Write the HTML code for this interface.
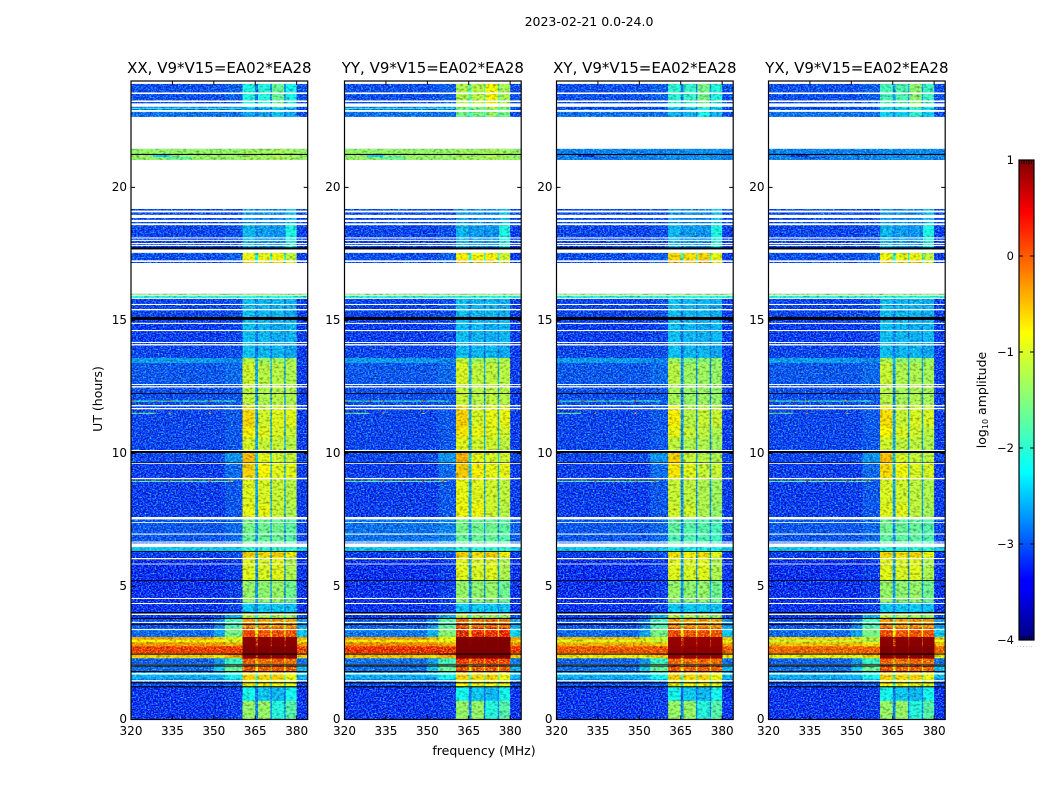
<!DOCTYPE html>
<html lang="en">
<head>
<meta charset="utf-8">
<title>2023-02-21 0.0-24.0</title>
<style>
html,body{margin:0;padding:0;background:#fff;}
svg{display:block;font-family:"DejaVu Sans","Liberation Sans",sans-serif;}
</style>
</head>
<body>
<svg id="chart" xmlns="http://www.w3.org/2000/svg" width="1050" height="800" viewBox="0 0 1050 800">
<defs>
<filter id="grain" x="0" y="0" width="1" height="1" color-interpolation-filters="sRGB">
<feTurbulence type="fractalNoise" baseFrequency="0.6 0.75" numOctaves="2" seed="4" result="n"/>
<feColorMatrix in="n" type="matrix" values="0 0.5 0 0 -0.2  0 2 0 0 -0.8  0 0 0 0 0  0 0 0 0 1" result="m"/>
<feBlend in="SourceGraphic" in2="m" mode="screen" result="s"/>
<feTurbulence type="fractalNoise" baseFrequency="0.3 0.45" numOctaves="2" seed="9" result="d"/>
<feColorMatrix in="d" type="matrix" values="0 0 1 0 0.45  0 0 1 0 0.45  0 0 1 0 0.45  0 0 0 0 1" result="k"/>
<feBlend in="s" in2="k" mode="multiply"/>
</filter>
</defs>
<text x="589" y="26" font-size="12.5" text-anchor="middle" fill="#000">2023-02-21 0.0-24.0</text>
<text x="484" y="755" font-size="12.5" text-anchor="middle" fill="#000">frequency (MHz)</text>
<text x="0" y="0" transform="translate(102,399) rotate(-90)" font-size="12.5" text-anchor="middle" fill="#000">UT (hours)</text>
<text x="0" y="0" transform="translate(986,400) rotate(-90)" font-size="12.5" text-anchor="middle" fill="#000">log<tspan font-size="8" dy="2">10</tspan><tspan dy="-2"> amplitude</tspan></text>
<g id="panels"></g>
<g id="colorbar"></g>
</svg>
<script>
// ---- axis data ----
const panelNames = ["XX", "YY", "XY", "YX"];
const panelTitleSuffix = ", V9*V15=EA02*EA28";
const freqTicks = [320, 335, 350, 365, 380];
const hourTicks = [0, 5, 10, 15, 20];
const colorTicks = [1, 0, -1, -2, -3, -4];
const colorTickLabels = ["1", "0", "\u22121", "\u22122", "\u22123", "\u22124"];

// ---- frequency column edges (MHz) ----
const columnEdges = [320, 350, 354, 360.4, 365, 366, 370.5, 371, 375.5, 376, 380, 384];

// ---- time band edges (hours, top to bottom) ----
const bandHours = [23.89, 23.0, 22.65, 21.45, 21.03, 19.19, 18.6, 17.75, 17.54, 17.27, 17.16, 16.0, 15.93, 15.85, 15.13, 14.1, 13.59, 13.4, 12.6, 11.75, 11.0, 10.6, 10.1, 9.64, 9.08, 8.1, 7.6, 7.0, 6.48, 6.33, 6.11, 5.24, 4.4, 4.0, 3.8, 3.45, 3.1, 3.0, 2.9, 2.75, 2.5, 2.42, 2.3, 2.05, 1.82, 1.5, 1.22, 0.7, 0];

// ---- log10 amplitude per band: [left, near1, near2, strip1, strip2, strip3, strip4, gap, right] ----
const bandLevels = [
[-3.0,-3.0,-2.9,-2.15,-2.1,-1.7,-2.2,-2.8,-3.0],
[-2.8,-2.8,-2.8,-2.5,-2.5,-2.3,-2.5,-2.9,-3.0],
[-3.0,-3.0,-3.0,-3.0,-3.0,-3.0,-3.0,-3.0,-3.0],
[-1.4,-1.4,-1.4,-1.35,-1.35,-1.3,-1.35,-1.35,-1.4],
[-3.0,-3.0,-3.0,-3.0,-3.0,-3.0,-3.0,-3.0,-3.0],
[-3.0,-3.0,-3.0,-2.55,-2.6,-2.65,-2.35,-2.8,-3.0],
[-3.05,-3.05,-3.0,-2.4,-2.55,-2.6,-2.15,-2.7,-3.1],
[-3.05,-3.05,-3.0,-2.4,-2.55,-2.6,-2.15,-2.7,-3.1],
[-3.0,-3.0,-2.9,-0.85,-0.9,-0.85,-1.15,-2.2,-3.1],
[-3.0,-3.0,-2.9,-0.5,-0.6,-0.5,-1.0,-2.2,-3.1],
[-3.0,-3.0,-3.0,-3.0,-3.0,-3.0,-3.0,-3.0,-3.0],
[-1.4,-1.4,-1.4,-1.4,-1.4,-1.4,-1.4,-1.4,-1.4],
[-2.1,-2.1,-2.1,-2.1,-2.1,-2.1,-2.1,-2.1,-2.1],
[-3.05,-3.05,-3.0,-2.35,-2.4,-2.4,-2.45,-2.7,-3.1],
[-3.1,-3.1,-3.05,-2.35,-2.4,-2.45,-2.4,-2.75,-3.1],
[-3.05,-3.05,-3.0,-2.35,-2.4,-2.4,-2.5,-2.8,-3.1],
[-2.55,-2.6,-2.7,-1.2,-1.4,-1.35,-1.3,-2.4,-3.1],
[-2.95,-2.95,-2.85,-1.05,-1.2,-1.2,-1.25,-2.5,-3.1],
[-3.0,-3.0,-2.95,-1.15,-1.25,-1.2,-1.25,-2.6,-3.1],
[-3.05,-3.05,-2.95,-0.6,-1.05,-0.95,-0.95,-2.5,-3.1],
[-3.05,-3.05,-2.95,-0.75,-0.95,-1.0,-1.1,-2.5,-3.1],
[-3.05,-3.05,-2.95,-1.0,-1.1,-1.1,-1.2,-2.5,-3.1],
[-3.05,-3.0,-2.6,-0.4,-0.95,-1.05,-1.1,-2.3,-3.05],
[-3.1,-3.1,-2.85,-0.55,-0.8,-0.95,-0.95,-2.4,-3.1],
[-3.1,-3.1,-2.95,-0.95,-1.0,-1.1,-1.2,-2.5,-3.1],
[-3.1,-3.1,-2.95,-0.9,-0.9,-1.1,-1.25,-2.5,-3.1],
[-2.95,-2.95,-2.85,-1.6,-1.65,-1.65,-1.75,-2.6,-3.05],
[-2.95,-2.95,-2.85,-1.7,-1.7,-1.7,-1.8,-2.6,-3.05],
[-2.3,-2.3,-2.3,-2.05,-2.05,-2.05,-2.05,-2.5,-2.3],
[-3.1,-3.1,-3.0,-0.5,-0.6,-0.5,-0.75,-2.4,-3.1],
[-3.2,-3.2,-3.1,-0.95,-1.0,-0.95,-1.25,-2.6,-3.15],
[-3.2,-3.2,-3.1,-1.4,-1.45,-1.4,-1.65,-2.6,-3.15],
[-3.15,-3.15,-3.05,-2.3,-2.3,-2.3,-2.35,-2.7,-3.15],
[-3.1,-3.0,-2.5,-1.2,-1.3,-1.3,-1.4,-2.2,-3.0],
[-3.0,-2.7,-1.9,-0.15,-0.25,-0.15,-0.25,-1.5,-2.6],
[-2.85,-2.5,-1.6,0.3,0.2,0.25,0.2,-0.8,-2.3],
[-0.3,-0.5,-0.9,0.95,0.95,0.95,0.95,0.7,-0.3],
[-0.8,-0.85,-1.0,0.95,0.95,0.95,0.95,0.7,-0.7],
[-0.2,-0.2,-0.4,0.95,0.95,0.95,0.95,0.7,-0.2],
[0.35,0.35,0.4,1.0,1.0,1.0,1.0,0.9,0.35],
[-0.2,-0.15,0.2,1.0,1.0,1.0,1.0,0.9,-0.15],
[-0.6,-0.7,-0.4,0.95,0.95,0.95,0.95,0.7,-0.6],
[-2.9,-2.6,-2.0,0.15,0.05,0.15,0.05,-0.5,-2.8],
[-2.8,-2.3,-1.7,0.25,0.15,0.2,0.15,-0.7,-2.4],
[-2.45,-2.4,-2.2,-0.55,-0.6,-0.55,-0.85,-1.8,-2.4],
[-3.0,-3.0,-2.9,-0.8,-0.8,-0.8,-0.95,-2.0,-3.0],
[-3.15,-3.15,-3.1,-2.2,-2.3,-2.4,-2.2,-2.8,-3.15],
[-3.15,-3.15,-3.1,-1.4,-1.4,-2.1,-1.8,-2.7,-3.15]
];

// ---- per-polarisation offsets: [hourTop, hourBottom, leftOffset, stripOffset] ----
const offsetsXX = [];
const offsetsYY = [[24,22.65,0,0.9],[17.54,17.16,0,0.1],[13.59,7.6,0,0.05],[7.6,6.48,0.15,0],[3.8,2.05,0.08,0.25]];
const offsetsXY = [[24,22.65,0,0.1],[21.45,21.03,-1.3,-1.3],[17.54,17.16,0,0.25],[13.59,6.11,0,-0.15],[3.1,2.3,-0.15,-0.05]];
const offsetsYX = [[24,22.65,0,0.25],[21.45,21.03,-1.3,-1.3],[13.59,6.11,0,-0.05],[3.1,2.3,-0.25,0]];
const panelOffsets = [offsetsXX, offsetsYY, offsetsXY, offsetsYX];

// ---- narrow interference patches: [hourTop, hourBottom, freqStart, freqEnd, level] ----
const patches = [
[21.22,21.14,328,334,-2.3],[21.14,21.08,333,342,-2.0],
[23.0,22.95,320,360,-2.1],
[11.99,11.95,320,358,-1.9],[11.99,11.95,320.4,321.1,0.1],[11.99,11.95,329,329.8,0.2],[11.99,11.95,333.7,334.4,0.2],[11.99,11.95,348.2,348.9,0.2],
[11.53,11.49,320,329,-1.6],[11.53,11.49,333.7,334.4,-0.6],[11.53,11.49,348.2,348.9,-0.6],
[8.97,8.93,320,357,-1.6],[8.97,8.93,333.7,334.4,0.3],[8.97,8.93,340.6,341.3,-0.3],[8.97,8.93,348.2,348.9,0.3],[8.97,8.93,355.4,356.1,0.3],
[6.07,6.02,320,350,-1.2],[6.07,6.02,328.7,329.4,0.3],[6.07,6.02,333.7,334.4,0.3]
];

// ---- flagged (blank) time ranges, hours ----
const blankRanges = [[24,23.89],[23.57,23.51],[23.27,23.21],[23.16,23.03],[22.91,22.84],[22.65,21.45],[21.03,19.19],[19.13,19.06],[18.97,18.85],[18.78,18.7],[18.65,18.58],[18.12,18.08],[18.03,17.99],[17.91,17.87],[17.84,17.8],[17.67,17.54],[17.26,17.2],[17.16,16.0],[15.96,15.93],[15.85,15.81],[15.62,15.58],[15.43,15.38],[14.91,14.87],[14.64,14.6],[14.19,14.15],[14.11,14.06],[12.61,12.57],[12.53,12.48],[11.82,11.77],[11.71,11.66],[10.13,10.09],[9.64,9.61],[9.08,9.03],[7.61,7.52],[7.42,7.39],[6.99,6.95],[6.69,6.65],[6.62,6.48],[6.07,6.03],[5.86,5.83],[4.57,4.53],[4.38,4.34],[3.98,3.93],[3.67,3.63],[3.4,3.36],[2.09,2.05],[1.75,1.69],[1.48,1.43]];

// ---- zero-amplitude (black) time ranges, hours ----
const zeroRanges = [[21.26,21.22],[17.75,17.67],[15.13,15.02],[12.27,12.24],[10.09,10.02],[9.66,9.64],[6.33,6.3],[5.24,5.21],[4.04,3.99],[3.82,3.78],[3.6,3.56],[2.48,2.44],[2.09,2.06],[2.03,1.99],[1.82,1.78],[1.4,1.36],[1.25,1.21]];

// ---- colormap stops ----
const jetPositions = [0, 0.11, 0.125, 0.35, 0.64, 0.89, 1];
const jetColors = [[0,0,127],[0,0,255],[0,0,255],[0,255,255],[255,255,0],[255,0,0],[127,0,0]];

// ---- layout ----
const panelLefts = [131, 344.5, 556.5, 768.5];
const panelWidth = 176.7;
const plotTop = 81;
const plotBottom = 719.5;
const NS = "http://www.w3.org/2000/svg";
const panelsRoot = document.getElementById("panels");
const colorbarRoot = document.getElementById("colorbar");

function xScale(left, f) { return left + (f - 320) / 64 * panelWidth; }
function yScale(h) { return plotBottom - h / 24 * (plotBottom - plotTop); }
function jet(t) {
  t = Math.max(0, Math.min(1, t));
  for (let i = 1; i < jetPositions.length; i++) {
    if (t <= jetPositions[i]) {
      const u = (t - jetPositions[i-1]) / (jetPositions[i] - jetPositions[i-1]);
      const a = jetColors[i-1], b = jetColors[i];
      return "rgb(" + [0,1,2].map(k => Math.round(a[k] + (b[k]-a[k]) * u)).join(",") + ")";
    }
  }
  return "rgb(127,0,0)";
}
// the grain filter lifts green by a small amount, so the dim floor is drawn slightly lower
function levelColor(v) { return jet(((v < -2.2 ? v - 0.2 : v) + 4) / 5); }
function shape(tag, parent, attrs) {
  const el = document.createElementNS(NS, tag);
  for (const k in attrs) el.setAttribute(k, attrs[k]);
  parent.appendChild(el);
  return el;
}
function columnIndex(c) {
  // left, near1, near2, s1, gap, s2, gap, s3, gap, s4, right
  return [0, 1, 2, 3, 7, 4, 7, 5, 7, 6, 8][c];
}
function offsetFor(list, mid) {
  for (const o of list) if (mid <= o[0] && mid >= o[1]) return o;
  return [0, 0, 0, 0];
}

panelNames.forEach(function (name, p) {
  const left = panelLefts[p];
  const panel = shape("g", panelsRoot, {});
  
  

  const heat = shape("g", panel, { filter: "url(#grain)" });
  
  
  const saturated = shape("g", panel, {});
  
  

  bandLevels.forEach(function (row, r) {
    const hTop = bandHours[r], hBot = bandHours[r + 1];
    const off = offsetFor(panelOffsets[p], (hTop + hBot) / 2);
    for (let c = 0; c < columnEdges.length - 1; c++) {
      const idx = columnIndex(c);
      const isStrip = idx >= 3 && idx <= 7;
      const v = row[idx] + (isStrip ? off[3] : off[2]);
      const cell = shape("rect", v >= 0.85 ? saturated : heat, {
        x: xScale(left, columnEdges[c]).toFixed(2),
        y: yScale(hTop).toFixed(2),
        width: (xScale(left, columnEdges[c + 1]) - xScale(left, columnEdges[c]) + 0.3).toFixed(2),
        height: (yScale(hBot) - yScale(hTop) + 0.3).toFixed(2),
        fill: levelColor(v)
      });
      
      
    }
  });

  patches.forEach(function (q) {
    const patch = shape("rect", heat, {
      x: xScale(left, q[2]).toFixed(2),
      y: yScale(q[0]).toFixed(2),
      width: (xScale(left, q[3]) - xScale(left, q[2])).toFixed(2),
      height: Math.max(1, yScale(q[1]) - yScale(q[0])).toFixed(2),
      fill: levelColor(q[4] + (p > 1 && q[0] > 20 ? -1 : 0))
    });
    
    
  });

  blankRanges.forEach(function (b) {
    const gap = shape("rect", panel, {
      x: left, y: yScale(b[0]).toFixed(2), width: panelWidth,
      height: (yScale(b[1]) - yScale(b[0])).toFixed(2), fill: "#fff"
    });
    
    
  });
  zeroRanges.forEach(function (b) {
    const zero = shape("rect", panel, {
      x: left, y: yScale(b[0]).toFixed(2), width: panelWidth,
      height: (yScale(b[1]) - yScale(b[0])).toFixed(2), fill: "#000"
    });
    
    
  });

  const frame = shape("rect", panel, {
    x: left, y: plotTop, width: panelWidth, height: plotBottom - plotTop,
    fill: "none", stroke: "#000", "stroke-width": 1.2
  });
  
  

  const title = shape("text", panel, {
    x: left + panelWidth / 2, y: 73, "font-size": 15, "text-anchor": "middle", fill: "#000"
  });
  title.textContent = name + panelTitleSuffix;
  
  

  freqTicks.forEach(function (f) {
    const x = xScale(left, f);
    const tick = shape("path", panel, {
      d: "M" + x + " " + plotBottom + "v-4M" + x + " " + plotTop + "v4",
      stroke: "#000", "stroke-width": 1, fill: "none"
    });
    
    
    const label = shape("text", panel, {
      x: x, y: 735, "font-size": 12, "text-anchor": "middle", fill: "#000"
    });
    label.textContent = f;
    
    
  });
  hourTicks.forEach(function (h) {
    const y = yScale(h);
    const tick = shape("path", panel, {
      d: "M" + left + " " + y + "h4M" + (left + panelWidth) + " " + y + "h-4",
      stroke: "#000", "stroke-width": 1, fill: "none"
    });
    
    
    const label = shape("text", panel, {
      x: left - 4, y: y + 3.5, "font-size": 12, "text-anchor": "end", fill: "#000"
    });
    label.textContent = h;
    
    
  });
});

// ---- colorbar ----
const cbLeft = 1019, cbWidth = 15, cbTop = 160, cbBottom = 640;
function cbY(v) { return cbBottom - (v + 4) / 5 * (cbBottom - cbTop); }
for (let y = cbTop; y < cbBottom; y += 2) {
  const band = shape("rect", colorbarRoot, {
    x: cbLeft, y: y, width: cbWidth, height: 2.3,
    fill: jet((cbBottom - y - 1) / (cbBottom - cbTop))
  });
  
  
}
const cbFrame = shape("rect", colorbarRoot, {
  x: cbLeft, y: cbTop, width: cbWidth, height: cbBottom - cbTop,
  fill: "none", stroke: "#000", "stroke-width": 1.2
});


colorTicks.forEach(function (v, i) {
  const y = cbY(v);
  const tick = shape("path", colorbarRoot, {
    d: "M" + cbLeft + " " + y + "h4M" + (cbLeft + cbWidth) + " " + y + "h-4",
    stroke: "#000", "stroke-width": 1, fill: "none"
  });
  
  
  const label = shape("text", colorbarRoot, {
    x: cbLeft - 5, y: y + 4, "font-size": 11.5, "text-anchor": "end", fill: "#000"
  });
  label.textContent = colorTickLabels[i];
  
  
});
const edgeTicks = shape("path", colorbarRoot, {
  d: [0, 1, 2, 3, 4].map(i => "M" + (cbLeft + 2.5 + i * 2.5) + " " + cbTop + "v4M" + (cbLeft + 2.5 + i * 2.5) + " " + cbBottom + "v-4").join(""),
  stroke: "#000", "stroke-width": 0.8, fill: "none"
});


const cbDots = shape("text", colorbarRoot, {
  x: 1017, y: 647, "font-size": 5, "letter-spacing": 1.2, fill: "#555"
});
cbDots.textContent = "......";


</script>
</body>
</html>
